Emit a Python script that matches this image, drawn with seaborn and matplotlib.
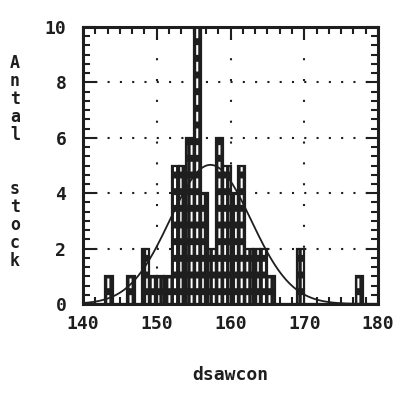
import numpy as np
import pandas as pd
import matplotlib
matplotlib.use("Agg")
import matplotlib.pyplot as plt
from matplotlib.ticker import FixedLocator, AutoMinorLocator
import seaborn as sns

# ---- data ----
bin_left = [143, 146, 148, 149, 150, 151, 152, 153, 154, 155, 156, 157,
            158, 159, 160, 161, 162, 163, 164, 165, 169, 177]
counts = [1, 1, 2, 1, 1, 1, 5, 5, 6, 10, 4, 2,
          6, 5, 4, 5, 2, 2, 2, 1, 2, 1]
x_ticks = [140, 150, 160, 170, 180]
y_ticks = [0, 2, 4, 6, 8, 10]
x_label = "dsawcon"
y_label = "Antal stock"

df = pd.DataFrame({"dsawcon": np.array(bin_left) + 0.5, "n": counts})
binrange = (x_ticks[0], x_ticks[-1])

sns.set_style("white")
plt.rcParams['font.family'] = ['DejaVu Sans Mono']
INK = '#1e1e1e'
FS = 13

fig = plt.figure(figsize=(4.01, 3.93), dpi=100)
W, H = 401, 393
L, R, T, B = 83, 378, 27, 304
ax = fig.add_axes([L / W, 1 - B / H, (R - L) / W, (B - T) / H])

# dotted grid
ax.set_axisbelow(True)
ax.yaxis.grid(True, linestyle=(0, (1, 4.9)), linewidth=1.5, color=INK)
ax.xaxis.grid(True, linestyle=(3, (1, 9)), linewidth=1.5, color=INK)

# layer 1: black bars with white vertical slots
n0 = len(ax.patches)
sns.histplot(data=df, x="dsawcon", weights="n", binwidth=1, binrange=binrange,
             ax=ax, color=INK, alpha=1, zorder=2)
for p in list(ax.patches[n0:]):
    p.set_facecolor(INK)
    p.set_edgecolor('white')
    p.set_linewidth(0)
    p.set_hatch('|||')
    try:
        p.set_hatch_linewidth(1.5)
    except AttributeError:
        pass

# layer 2: horizontal black bands + outline
n1 = len(ax.patches)
sns.histplot(data=df, x="dsawcon", weights="n", binwidth=1, binrange=binrange,
             ax=ax, fill=False, color=INK, alpha=1, zorder=3)
for p in list(ax.patches[n1:]):
    p.set_facecolor('none')
    p.set_edgecolor(INK)
    p.set_linewidth(1.6)
    p.set_hatch('-')
    try:
        p.set_hatch_linewidth(5.0)
    except AttributeError:
        pass

# fitted normal curve
vals = np.repeat(df["dsawcon"].to_numpy(), df["n"].to_numpy())
mu, sd = vals.mean(), vals.std(ddof=1)
xs = np.linspace(x_ticks[0], x_ticks[-1], 161)
ys = len(vals) * np.exp(-0.5 * ((xs - mu) / sd) ** 2) / (sd * np.sqrt(2 * np.pi))
sns.lineplot(x=xs, y=ys, ax=ax, color=INK, linewidth=1.3, zorder=4)

ax.set_xlim(x_ticks[0], x_ticks[-1])
ax.set_ylim(y_ticks[0], y_ticks[-1])
ax.xaxis.set_major_locator(FixedLocator(x_ticks))
ax.yaxis.set_major_locator(FixedLocator(y_ticks))
ax.xaxis.set_minor_locator(AutoMinorLocator(6))
ax.yaxis.set_minor_locator(AutoMinorLocator(6))
ax.set_xticklabels([str(v) for v in x_ticks])
ax.set_yticklabels([str(v) for v in y_ticks])

ax.tick_params(which='both', direction='in', top=True, right=True,
               bottom=True, left=True, color=INK, width=1.5)
ax.tick_params(which='major', length=9)
ax.tick_params(which='minor', length=5)
ax.tick_params(axis='x', which='major', pad=8, labelsize=FS, labelcolor=INK)
ax.tick_params(axis='y', which='major', pad=12, labelsize=FS, labelcolor=INK)
for lab in ax.get_xticklabels() + ax.get_yticklabels():
    lab.set_fontweight('bold')

for s in ax.spines.values():
    s.set_linewidth(2.2)
    s.set_color(INK)
    s.set_zorder(5)

ax.set_xlabel(x_label, fontsize=FS, fontweight='bold', color=INK, va='center')
ax.xaxis.set_label_coords(0.5, -(375 - B) / (B - T))
stacked = "\n".join(list(y_label.split()[0])) + "\n\n\n" + "\n".join(list(y_label.split()[1]))
ax.set_ylabel(stacked, rotation=0, fontsize=FS - 1, fontweight='bold', color=INK,
              va='center', ha='center', linespacing=1.0)
ax.yaxis.set_label_coords((15 - L) / (R - L), 1 - (162 - T) / (B - T))

fig.savefig("out.png", dpi=100, facecolor='white')
